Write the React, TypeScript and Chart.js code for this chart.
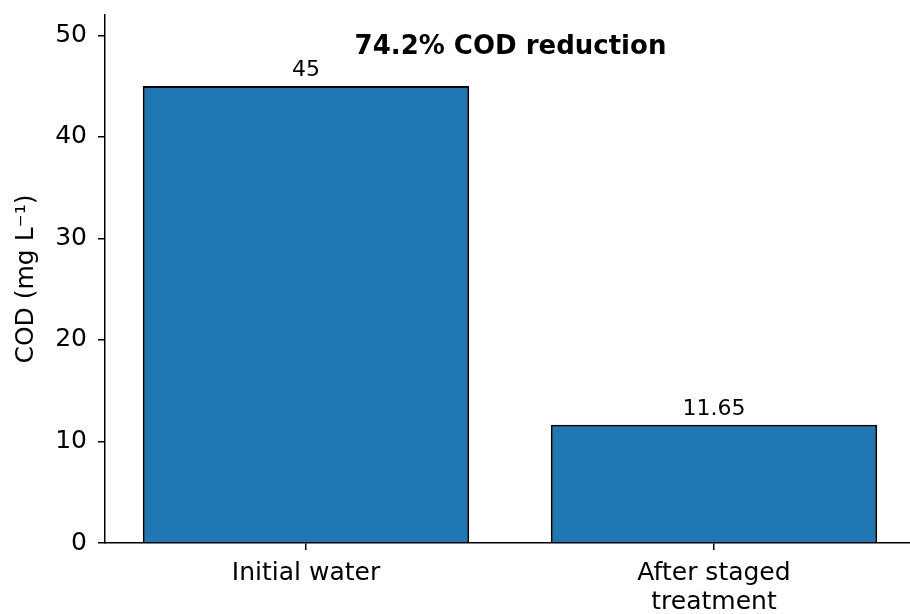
import React, { useEffect, useRef } from "react";
import { Chart, registerables } from "chart.js";

Chart.register(...registerables);

const categories: string[][] = [["Initial water"], ["After staged", "treatment"]];
const codValues: number[] = [45, 11.65];
const valueLabels: string[] = ["45", "11.65"];
const yTicks: number[] = [0, 10, 20, 30, 40, 50];
const annotationText = "74.2% COD reduction";
const yTitle = "COD (mg L\u207B\u00B9)";

const FONT = "'DejaVu Sans', sans-serif";

export default function App() {
  const ref = useRef<HTMLCanvasElement | null>(null);

  useEffect(() => {
    if (!ref.current) return;
    const labelPlugin = {
      id: "labels",
      afterDatasetsDraw(chart: any) {
        const ctx = chart.ctx;
        const meta = chart.getDatasetMeta(0);
        ctx.save();
        ctx.fillStyle = "#000";
        ctx.font = `22px ${FONT}`;
        ctx.textAlign = "center";
        ctx.textBaseline = "alphabetic";
        meta.data.forEach((bar: any, i: number) => {
          ctx.fillText(valueLabels[i], bar.x, bar.y - 10);
        });
        const area = chart.chartArea;
        ctx.font = `bold 26px ${FONT}`;
        ctx.textBaseline = "middle";
        ctx.fillText(annotationText, (area.left + area.right) / 2 + 3, 47);
        ctx.restore();
      },
    };

    const chart = new Chart(ref.current, {
      type: "bar",
      data: {
        datasets: [
          {
            data: codValues.map((v, i) => ({ x: i, y: v })),
            backgroundColor: "#1f77b4",
            borderColor: "#000",
            borderWidth: 2,
            barPercentage: 0.8,
            categoryPercentage: 1,
          },
        ],
      },
      options: {
        animation: false,
        responsive: true,
        maintainAspectRatio: false,
        layout: { padding: { top: 15, right: 0, left: 0, bottom: 0 } },
        plugins: { legend: { display: false }, tooltip: { enabled: false } },
        scales: {
          x: {
            type: "linear",
            offset: false,
            min: -0.4926,
            max: 1.4804,
            afterBuildTicks: (scale: any) => {
              scale.ticks = categories.map((_, i) => ({ value: i }));
            },
            afterFit: (scale: any) => {
              scale.height = 71;
              scale.paddingLeft = 0;
              scale.paddingRight = 0;
            },
            ticks: {
              autoSkip: false,
              maxRotation: 0,
              padding: 9,
              color: "#000",
              font: { family: FONT, size: 25, lineHeight: 1.15 },
              callback: (value: any) => {
                const c = categories[Math.round(Number(value))];
                return c ? (c.length === 1 ? c[0] : c) : "";
              },
            },
            grid: { offset: false, drawOnChartArea: false, drawTicks: true, tickLength: 7, color: "#000", lineWidth: 1.5 },
            border: { display: true, color: "#000", width: 1.5 },
          },
          y: {
            type: "linear",
            min: 0,
            max: 52,
            afterBuildTicks: (scale: any) => {
              scale.ticks = yTicks.map((v) => ({ value: v }));
            },
            afterFit: (scale: any) => {
              scale.width = 105;
              scale.paddingTop = 0;
              scale.paddingBottom = 0;
            },
            ticks: {
              padding: 11,
              color: "#000",
              font: { family: FONT, size: 25 },
            },
            grid: { drawOnChartArea: false, drawTicks: true, tickLength: 7, color: "#000", lineWidth: 1.5 },
            border: { display: true, color: "#000", width: 1.5 },
            title: {
              display: true,
              text: yTitle,
              color: "#000",
              font: { family: FONT, size: 25 },
              padding: { top: 11, bottom: 0 },
            },
          },
        },
      },
      plugins: [labelPlugin],
    });
    return () => chart.destroy();
  }, []);

  return (
    <div style={{ position: "fixed", left: 0, top: 0, width: 910, height: 614, background: "#fff" }}>
      <canvas ref={ref} />
    </div>
  );
}
